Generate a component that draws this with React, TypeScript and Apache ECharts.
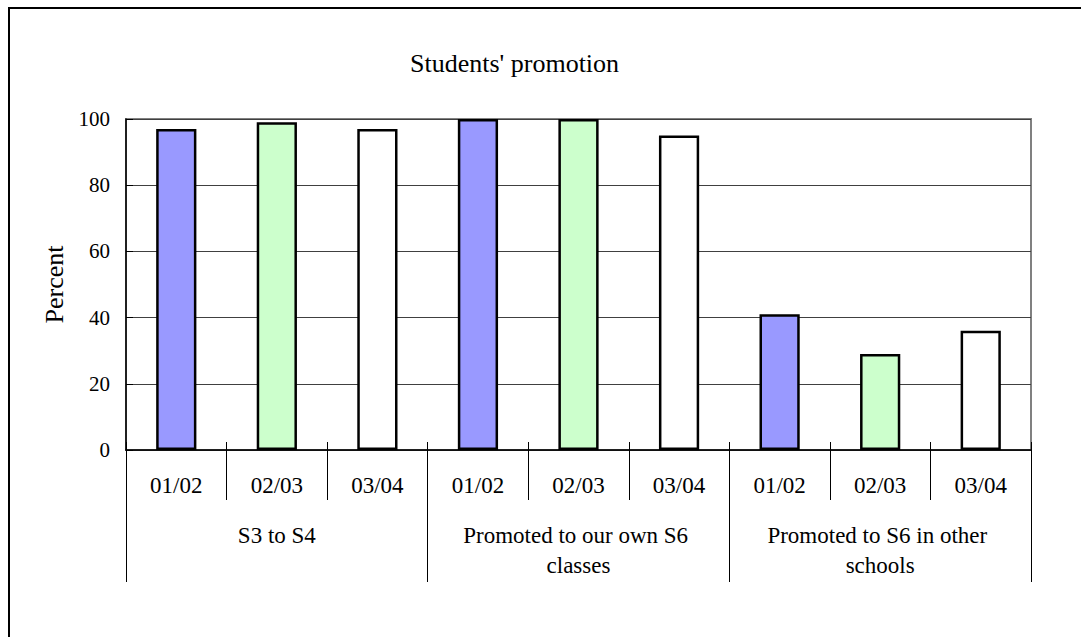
import React, { useEffect, useRef } from "react";
import * as echarts from "echarts";

const titleText = "Students' promotion";
const yAxisName = "Percent";
const years = ["01/02", "02/03", "03/04", "01/02", "02/03", "03/04", "01/02", "02/03", "03/04"];
const groups = ["S3 to S4", "Promoted to our own S6 classes", "Promoted to S6 in other schools"];
const values = [97, 99, 97, 100, 100, 95, 41, 29, 36];
const yearColors = ["#9999FF", "#CCFFCC", "#FFFFFF"];
const yTicks = { min: 0, max: 100, interval: 20 };

const FONT = "Liberation Serif, Times New Roman, serif";

export default function App() {
  const ref = useRef<HTMLDivElement>(null);
  useEffect(() => {
    if (!ref.current) return;
    const chart = echarts.init(ref.current, null, { renderer: "svg" });
    chart.setOption({
      animation: false,
      backgroundColor: "transparent",
      title: {
        text: titleText,
        left: 410,
        top: 50,
        padding: 0,
        textStyle: { fontFamily: FONT, fontSize: 26, fontWeight: "normal", color: "#000" },
      },
      grid: {
        left: 126,
        top: 119,
        right: 50,
        bottom: 187,
        show: true,
        borderColor: "#808080",
        borderWidth: 2,
        backgroundColor: "transparent",
      },
      yAxis: {
        type: "value",
        min: yTicks.min,
        max: yTicks.max,
        interval: yTicks.interval,
        name: yAxisName,
        nameLocation: "middle",
        nameGap: 58,
        nameTextStyle: { fontFamily: FONT, fontSize: 26, color: "#000" },
        axisLine: { show: true, lineStyle: { color: "#000", width: 1.5 } },
        axisTick: { show: true, inside: true, length: 7, lineStyle: { color: "#000" } },
        axisLabel: { fontFamily: FONT, fontSize: 21, color: "#000", margin: 16 },
        splitLine: { show: true, lineStyle: { color: "#404040", width: 1 } },
      },
      xAxis: [
        {
          type: "category",
          data: years,
          position: "bottom",
          axisLine: { show: true, lineStyle: { color: "#000", width: 1.5 } },
          axisTick: { show: true, interval: 0, length: 50, alignWithLabel: false, lineStyle: { color: "#000" } },
          axisLabel: { interval: 0, fontFamily: FONT, fontSize: 23, color: "#000", margin: 24 },
          splitLine: { show: false },
        },
        {
          type: "category",
          data: groups,
          position: "bottom",
          axisLine: { show: false },
          axisTick: { show: true, interval: 0, length: 132, alignWithLabel: false, lineStyle: { color: "#000" } },
          axisLabel: {
            interval: 0,
            fontFamily: FONT,
            fontSize: 23,
            color: "#000",
            margin: 70,
            width: 250,
            overflow: "break",
            lineHeight: 30,
            align: "center",
          },
          splitLine: { show: false },
        },
        {
          type: "category",
          data: years,
          position: "bottom",
          axisLine: { show: false },
          axisTick: { show: true, inside: true, interval: 0, length: 8, alignWithLabel: false, lineStyle: { color: "#000" } },
          axisLabel: { show: false },
          splitLine: { show: false },
        },
      ],
      series: [
        {
          type: "bar",
          xAxisIndex: 0,
          barWidth: "40%",
          data: values.map((v, i) => ({
            value: v,
            itemStyle: { color: yearColors[i % yearColors.length], borderColor: "#000", borderWidth: 2.5 },
          })),
        },
      ],
    });
    return () => chart.dispose();
  }, []);

  return (
    <div style={{ position: "fixed", left: 0, top: 0, width: 1081, height: 637, overflow: "hidden", background: "#fff" }}>
      <div
        style={{
          position: "absolute",
          left: 8,
          top: 7,
          width: 2000,
          height: 2000,
          borderLeft: "2px solid #000",
          borderTop: "2px solid #000",
        }}
      />
      <div ref={ref} style={{ position: "absolute", left: 0, top: 0, width: 1081, height: 637 }} />
    </div>
  );
}
